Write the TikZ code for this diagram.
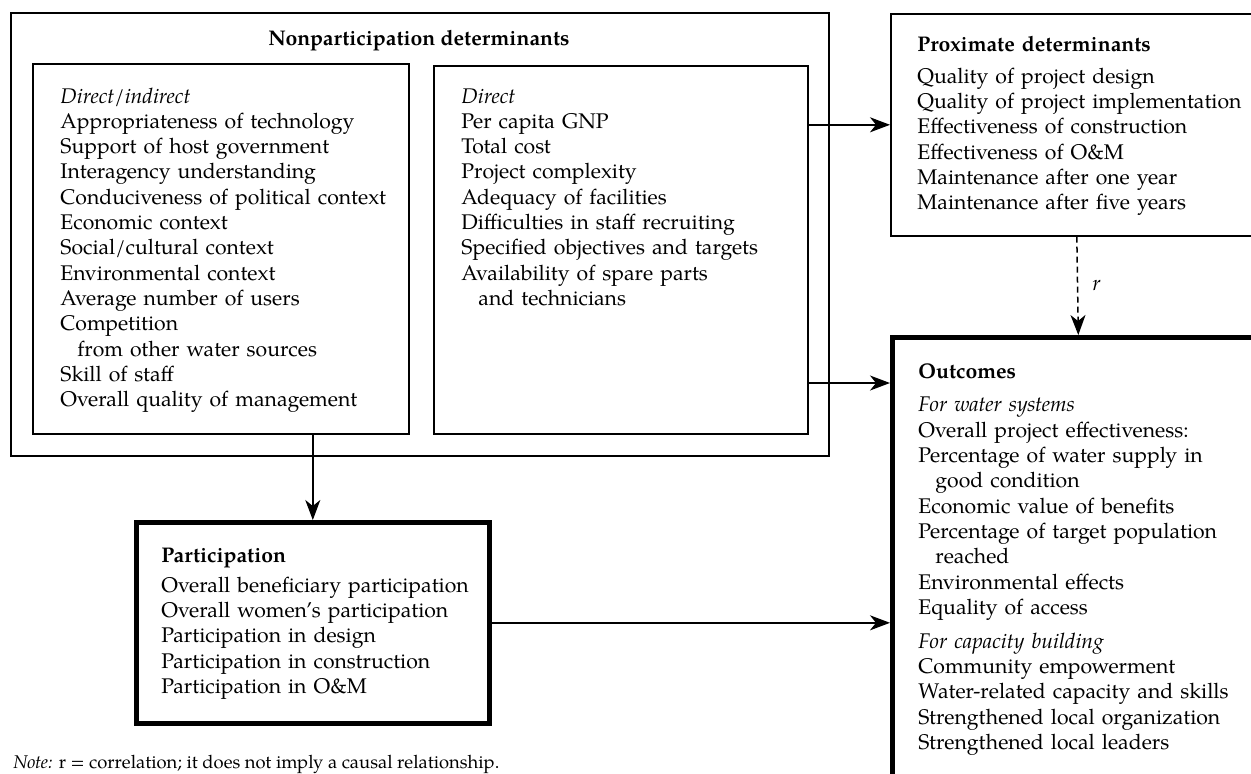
\documentclass[tikz,border=0pt]{standalone}
\usepackage{fontspec}
\setmainfont{TeX Gyre Pagella}
\usetikzlibrary{arrows.meta}
\begin{document}
\begin{tikzpicture}[x=0.5pt,y=-0.5pt,
  box/.style={draw, anchor=north west, inner sep=0pt},
  thinbox/.style={box, line width=0.8pt},
  midbox/.style={box, line width=1.2pt},
  thickbox/.style={box, line width=2.3pt},
  txt/.style={anchor=base west, inner sep=0pt, text width=190pt, align=left,
    font=\fontsize{10.6}{12.65}\selectfont},
  arr/.style={line width=0.75pt, -{Stealth[length=10pt,width=7.5pt,inset=3pt]}},
]
\useasboundingbox (0,0) rectangle (1251,773);
\clip (0,0) rectangle (1251,773);
% boxes
\node[box, line width=1pt, minimum width=409pt, minimum height=221.5pt] (outer) at (10,12) {};
\node[midbox, minimum width=188pt, minimum height=185pt] (leftin) at (32,63) {};
\node[midbox, minimum width=187pt, minimum height=184pt] (rightin) at (433,65) {};
\node[thinbox, minimum width=186pt, minimum height=111pt] (prox) at (890,13) {};
\node[thickbox, minimum width=186pt, minimum height=240pt] (out) at (890,335) {};
\node[thickbox, minimum width=176.5pt, minimum height=100.5pt] (part) at (134,520) {};
% texts
\node[anchor=base, inner sep=0pt, font=\fontsize{10.6}{12.65}\selectfont\bfseries] (nphead) at (419,45) {Nonparticipation determinants};
\node[txt] (lefttxt) at (60,103) {\textit{Direct/indirect}\\
Appropriateness of technology\\
Support of host government\\
Interagency understanding\\
Conduciveness of political context\\
Economic context\\
Social/cultural context\\
Environmental context\\
Average number of users\\
Competition\\
\hspace*{8.5pt}from other water sources\\
Skill of staff\\
Overall quality of management};
\node[txt] (righttxt) at (461,103) {\textit{Direct}\\
Per capita GNP\\
Total cost\\
Project complexity\\
Adequacy of facilities\\
Difficulties in staff recruiting\\
Specified objectives and targets\\
Availability of spare parts\\
\hspace*{8.5pt}and technicians};
\node[txt] (proxtxt) at (917,51) {\textbf{Proximate determinants}\\[3.5pt]
Quality of project design\\
Quality of project implementation\\
Effectiveness of construction\\
Effectiveness of O\&M\\
Maintenance after one year\\
Maintenance after five years};
\node[txt] (outtxt) at (918,378) {\textbf{Outcomes}\\[4.3pt]
\textit{For water systems}\\
Overall project effectiveness:\\
Percentage of water supply in\\
\hspace*{8.5pt}good condition\\
Economic value of benefits\\
Percentage of target population\\
\hspace*{8.5pt}reached\\
Environmental effects\\
Equality of access\\[4.3pt]
\textit{For capacity building}\\
Community empowerment\\
Water-related capacity and skills\\
Strengthened local organization\\
Strengthened local leaders};
\node[txt] (parttxt) at (161,562) {\textbf{Participation}\\[2.5pt]
Overall beneficiary participation\\
Overall women's participation\\
Participation in design\\
Participation in construction\\
Participation in O\&M};
\node[anchor=base west, inner sep=0pt, font=\fontsize{9.2}{11}\selectfont] (note) at (13,768) {\textit{Note:} r = correlation; it does not imply a causal relationship.};
% connectors
\coordinate (ya) at (0,383);
\draw[arr] (rightin.east |- prox.west) -- (prox.west);
\draw[arr] (rightin.east |- ya) -- (out.west |- ya);
\draw[arr] (part.north |- leftin.south) -- (part.north);
\draw[arr] (part.east) -- (part.east -| out.west);
\draw[arr, dash pattern=on 3pt off 2pt] (prox.south) -- (out.north)
  node[midway, right=7pt, inner sep=0pt, font=\fontsize{10.6}{12.65}\selectfont] (rlab) {\textit{r}};
\end{tikzpicture}
\end{document}
